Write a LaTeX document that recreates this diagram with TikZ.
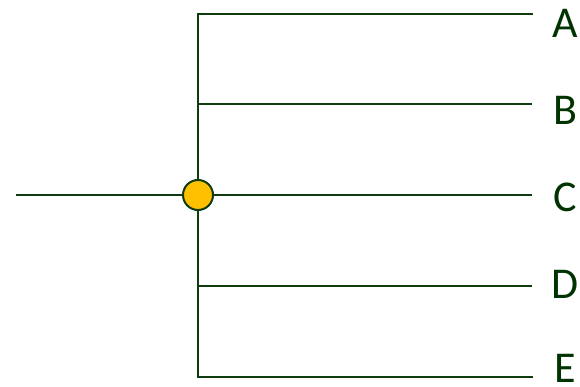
\documentclass[tikz,border=0pt]{standalone}
\usepackage{fontspec}
\setmainfont{Carlito}
\definecolor{dkgreen}{RGB}{15,60,15}
\definecolor{txtgreen}{RGB}{0,51,0}
\definecolor{gold}{RGB}{255,192,0}
\begin{document}
\begin{tikzpicture}[x=1pt,y=-1pt,
  wire/.style={draw=dkgreen,line width=1.8pt},
  lbl/.style={text=txtgreen,font=\fontsize{44}{48}\selectfont,inner sep=0pt,anchor=center},
  hub/.style={circle,draw=dkgreen,fill=gold,line width=2pt,minimum size=30pt,inner sep=0pt}]
\useasboundingbox (0,0) rectangle (580,387);
\coordinate (in) at (16,195);
\coordinate (top) at (198,14);
\coordinate (bot) at (198,377);
\coordinate (b) at (198,104);
\coordinate (d) at (198,286);
\coordinate (eA) at (532,14);
\coordinate (eB) at (532,104);
\coordinate (eC) at (532,195);
\coordinate (eD) at (532,286);
\coordinate (eE) at (532,377);
\draw[wire] (in) -- (eC);
\draw[wire,line cap=rect] (eA) -- (top) -- (bot) -- (eE);
\draw[wire] (b) -- (eB);
\draw[wire] (d) -- (eD);
\node[hub] (h) at (198,195) {};
\node[lbl] (A) at (565,23) {A};
\node[lbl] (B) at (565,110) {B};
\node[lbl] (C) at (565,197) {C};
\node[lbl] (D) at (565,284) {D};
\node[lbl] (E) at (565,368) {E};
\end{tikzpicture}
\end{document}
